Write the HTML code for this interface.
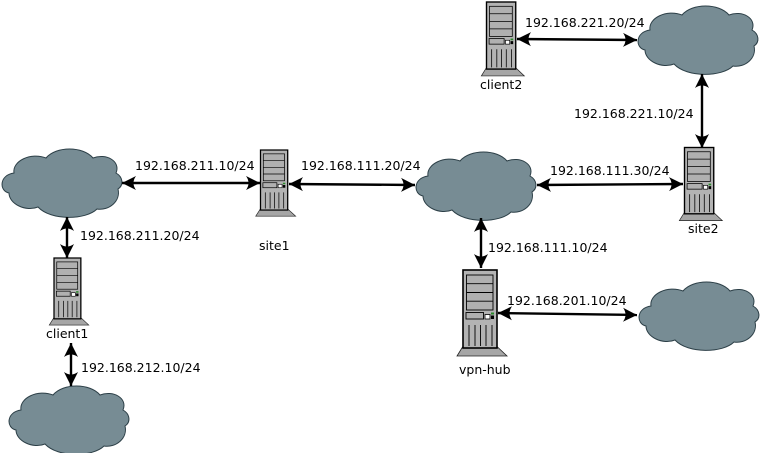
<!DOCTYPE html>
<html>
<head>
<meta charset="utf-8">
<style>
html,body{margin:0;padding:0;background:#fff;width:760px;height:453px;overflow:hidden}
svg{display:block}
text{font-family:"DejaVu Sans",sans-serif;font-size:12.5px;fill:#000}
</style>
</head>
<body>
<svg width="760" height="453" viewBox="0 0 760 453" xmlns="http://www.w3.org/2000/svg">
<defs>
<marker id="a" viewBox="0 0 16 16" refX="15" refY="8" markerWidth="16" markerHeight="16" markerUnits="userSpaceOnUse" orient="auto-start-reverse">
<path d="M15 8 L1 1 Q6 8 1 15 Z" fill="#000"/>
</marker>
<g id="cloud">
<path d="M13 24 C11 12 30 3 45 9 C55 -3 82 -3 92 9 C105 4 120 12 115 24 C122 28 123 36 117 40 C120 52 108 62 96 60 C85 71 50 72 37 58 C25 63 8 55 8 44 C-2 42 -2 26 13 24 Z" fill="#778c94" stroke="#2c3f47" stroke-width="1"/>
</g>
<g id="server">
<path d="M-0.5 77 L34.5 77 L44 86 L-6 86 Z" fill="#a6a6a6" stroke="#222" stroke-width=".8"/>
<rect x="0" y="0" width="34" height="78" fill="#b3b3b3" stroke="#000" stroke-width="1.6"/>
<rect x="3.5" y="5" width="26.5" height="35" fill="#b0b0b0" stroke="#000" stroke-width=".9"/>
<path d="M3.5 13.7H30M3.5 22.5H30M3.5 31.2H30" stroke="#000" stroke-width=".9" fill="none"/>
<rect x="3" y="42.5" width="17.5" height="6.5" fill="#b0b0b0" stroke="#000" stroke-width=".9"/>
<rect x="22" y="44.5" width="5" height="4.5" fill="#fff" stroke="#000" stroke-width=".8"/>
<rect x="28" y="42.5" width="3" height="2" fill="#2a8a2a"/>
<rect x="28" y="45.5" width="3" height="3.5" fill="#000"/>
<path d="M6 55V76M12 55V76M17.5 55V76M23 55V76M29 55V76" stroke="#000" stroke-width=".9" fill="none"/>
</g>
</defs>

<use href="#cloud" transform="translate(1,149)"/>
<use href="#cloud" transform="translate(415,152)"/>
<use href="#cloud" transform="translate(637,6)"/>
<use href="#cloud" transform="translate(638,282)"/>
<use href="#cloud" transform="translate(8,386)"/>

<use href="#server" transform="translate(260.5,150) scale(.8,.77)"/>
<use href="#server" transform="translate(486.5,2) scale(.86,.86)"/>
<use href="#server" transform="translate(684.5,147.5) scale(.86,.85)"/>
<use href="#server" transform="translate(54,258) scale(.79,.78)"/>
<use href="#server" transform="translate(463,270)"/>

<g stroke="#000" stroke-width="2.4" fill="none" marker-start="url(#a)" marker-end="url(#a)">
<line x1="122" y1="183" x2="260" y2="183"/>
<line x1="289" y1="184" x2="415" y2="185"/>
<line x1="537" y1="185" x2="683" y2="184"/>
<line x1="481" y1="218" x2="481" y2="268"/>
<line x1="498" y1="313" x2="637" y2="315"/>
<line x1="517" y1="39" x2="637" y2="40"/>
<line x1="702" y1="74" x2="702" y2="148"/>
<line x1="67" y1="217" x2="67" y2="258"/>
<line x1="71" y1="343" x2="71" y2="386"/>
</g>

<text x="135" y="170">192.168.211.10/24</text>
<text x="301" y="170">192.168.111.20/24</text>
<text x="550" y="175">192.168.111.30/24</text>
<text x="525" y="27">192.168.221.20/24</text>
<text x="574" y="118">192.168.221.10/24</text>
<text x="488" y="252">192.168.111.10/24</text>
<text x="507" y="305">192.168.201.10/24</text>
<text x="80" y="240">192.168.211.20/24</text>
<text x="81" y="372">192.168.212.10/24</text>
<text x="480" y="89">client2</text>
<text x="688" y="233">site2</text>
<text x="259" y="250">site1</text>
<text x="46" y="338">client1</text>
<text x="459" y="374">vpn-hub</text>
</svg>
</body>
</html>
